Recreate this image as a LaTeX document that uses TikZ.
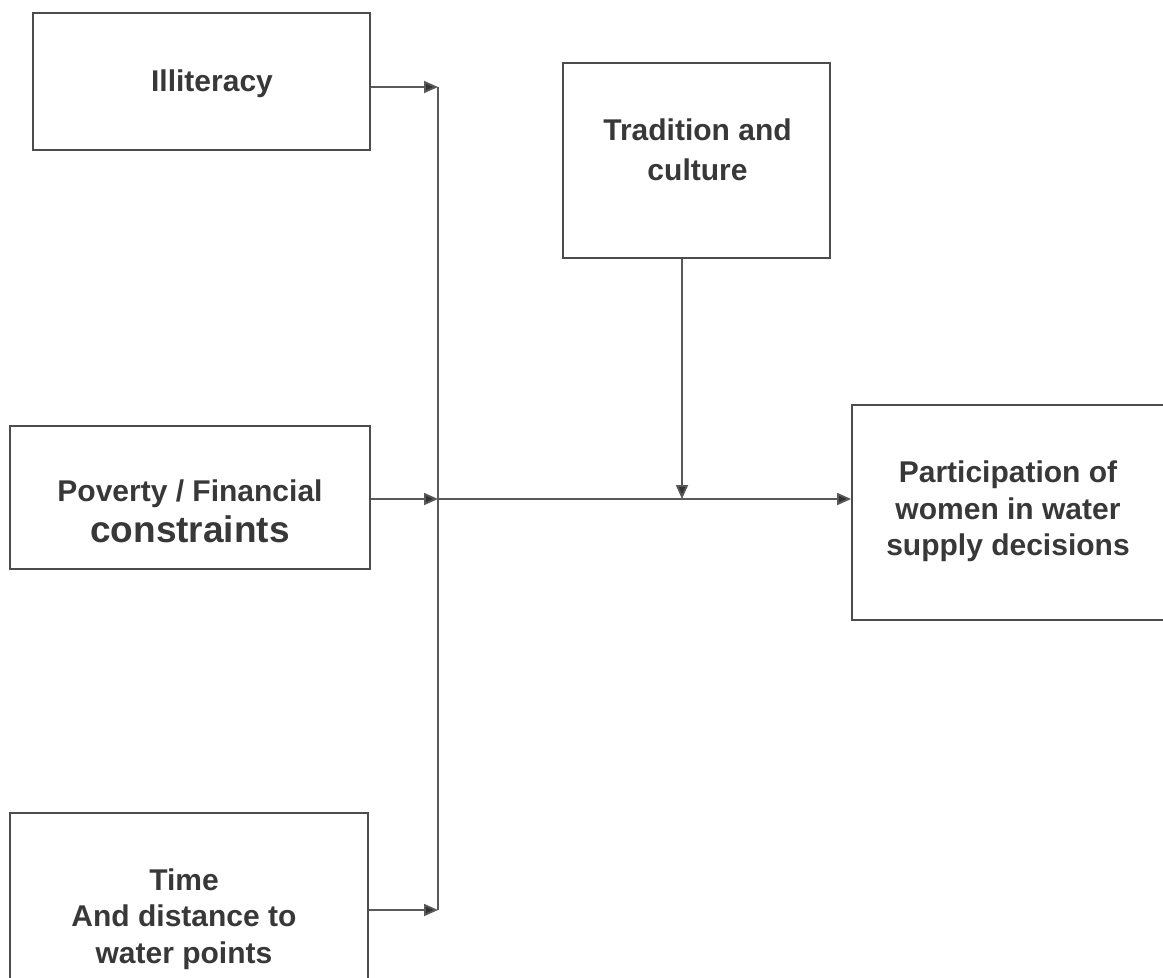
\documentclass[tikz,border=0pt]{standalone}
\usepackage{fontspec}
\setmainfont{Liberation Sans}
\usetikzlibrary{positioning, arrows.meta}

\begin{document}
\begin{tikzpicture}[
        x=1pt, y=-1pt,
        box/.style={draw=black!70, line width=1.8pt, inner sep=0pt},
        boxtext/.style={align=center, inner sep=0pt, text=black!78, font=\fontsize{30}{36.5}\selectfont\bfseries},
        arrow/.style={-{Triangle[length=14pt, width=12pt, fill=black!80]}, line width=1.8pt, draw=black!65},
        line/.style={line width=1.8pt, draw=black!65}
    ]
    \useasboundingbox (0,0) rectangle (1163,978);

    \node[box, minimum width=337pt, minimum height=137pt] (illit) at (201.5,81.5) {};
    \node[box, minimum width=267pt, minimum height=195pt] (trad) at (696.5,160.5) {};
    \node[box, minimum width=360pt, minimum height=143pt] (pov) at (190,497.5) {};
    \node[box, minimum width=318pt, minimum height=215pt] (part) at (1011,512.5) {};
    \node[box, minimum width=358pt, minimum height=172pt] (time) at (189,899) {};

    \node[boxtext] (illittext) at (212,84) {Illiteracy};
    \node[boxtext, font=\fontsize{30}{39.5}\selectfont\bfseries] (tradtext) at (697.5,150) {Tradition and\\culture};
    \node[boxtext, font=\fontsize{30}{41}\selectfont\bfseries] (povtext) at (190,511.5) {Poverty / Financial\\{\fontsize{37}{41}\selectfont constraints}};
    \node[boxtext] (parttext) at (1008,511.5) {Participation of\\women in water\\supply decisions};
    \node[boxtext] (timetext) at (184,919) {Time\\And distance to\\water points};

    \coordinate (top) at (438,87);
    \coordinate (join) at (438,499);
    \coordinate (bottom) at (438,910);
    \coordinate (meet) at (682,499);

    \draw[line] (top) -- (bottom);
    \draw[arrow] (illit.east |- top) -- (top);
    \draw[arrow] (pov.east |- join) -- (join);
    \draw[arrow] (time.east |- bottom) -- (bottom);
    \draw[arrow] (join) -- (part.west |- join);
    \draw[arrow] (trad.south -| meet) -- (meet);

    \end{tikzpicture}
\end{document}
